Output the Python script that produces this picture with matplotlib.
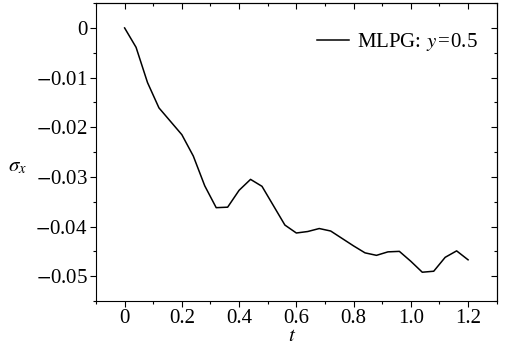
import matplotlib
matplotlib.use("Agg")
import matplotlib.pyplot as plt
from matplotlib.ticker import MultipleLocator, FixedLocator, FixedFormatter

# sigma_x at y = 0.5 over time
t = [0.00, 0.04, 0.08, 0.12, 0.16, 0.20, 0.24, 0.28, 0.32, 0.36,
     0.40, 0.44, 0.48, 0.52, 0.56, 0.60, 0.64, 0.68, 0.72, 0.76,
     0.80, 0.84, 0.88, 0.92, 0.96, 1.00, 1.04, 1.08, 1.12, 1.16, 1.20]
sigma_x = [0.0, -0.0039, -0.0110, -0.0161, -0.0188, -0.0215, -0.0258, -0.0318,
           -0.0362, -0.0361, -0.0327, -0.0305, -0.0319, -0.0358, -0.0397,
           -0.0413, -0.0410, -0.0404, -0.0409, -0.0424, -0.0439, -0.0453,
           -0.0458, -0.0451, -0.0450, -0.0470, -0.0492, -0.0490, -0.0462,
           -0.0449, -0.0467]

xticks = [0, 0.2, 0.4, 0.6, 0.8, 1.0, 1.2]
xtick_labels = ["0", "0.2", "0.4", "0.6", "0.8", "1.0", "1.2"]
yticks = [0, -0.01, -0.02, -0.03, -0.04, -0.05]
ytick_labels = ["0", "$-$0.01", "$-$0.02", "$-$0.03", "$-$0.04", "$-$0.05"]

plt.rcParams['font.family'] = ['Liberation Serif', 'DejaVu Serif']
plt.rcParams['mathtext.fontset'] = 'stix'
plt.rcParams['font.size'] = 15

fig = plt.figure(figsize=(5.06, 3.46), dpi=100)
ax = fig.add_axes([0.1897, 0.130, 0.9816 - 0.1897, 0.991 - 0.130])

ax.plot(t, sigma_x, color='black', lw=1.1, label='MLPG: $y$\u200a=\u200a0.5')

ax.set_xlim(-0.1, 1.3)
ax.set_ylim(-0.055, 0.005)

ax.xaxis.set_major_locator(FixedLocator(xticks))
ax.xaxis.set_major_formatter(FixedFormatter(xtick_labels))
ax.xaxis.set_minor_locator(MultipleLocator(0.1))
ax.yaxis.set_major_locator(FixedLocator(yticks))
ax.yaxis.set_major_formatter(FixedFormatter(ytick_labels))
ax.yaxis.set_minor_locator(MultipleLocator(0.005))

ax.tick_params(which='both', direction='out', width=0.8, pad=2)
ax.tick_params(which='major', length=4)
ax.tick_params(which='minor', length=2)

# top and right ticks point inward
top = ax.secondary_xaxis('top')
top.xaxis.set_major_locator(FixedLocator(xticks))
top.xaxis.set_minor_locator(MultipleLocator(0.1))
top.tick_params(which='both', direction='in', labeltop=False, width=0.8)
top.tick_params(which='major', length=4)
top.tick_params(which='minor', length=2)
right = ax.secondary_yaxis('right')
right.yaxis.set_major_locator(FixedLocator(yticks))
right.yaxis.set_minor_locator(MultipleLocator(0.005))
right.tick_params(which='both', direction='in', labelright=False, width=0.8)
right.tick_params(which='major', length=4)
right.tick_params(which='minor', length=2)

for s in ax.spines.values():
    s.set_linewidth(0.8)

ax.set_xlabel('$t$')
ax.xaxis.set_label_coords(0.49, -0.088)
ax.set_ylabel(r'$\sigma_x$', rotation=0, ha='center', va='center')
ax.yaxis.set_label_coords(-0.195, 0.45)

ax.legend(loc='center right', bbox_to_anchor=(0.953, 0.869), frameon=False,
          handlelength=1.5, handletextpad=0.4, borderpad=0, borderaxespad=0)

fig.savefig("out.png", dpi=100)
